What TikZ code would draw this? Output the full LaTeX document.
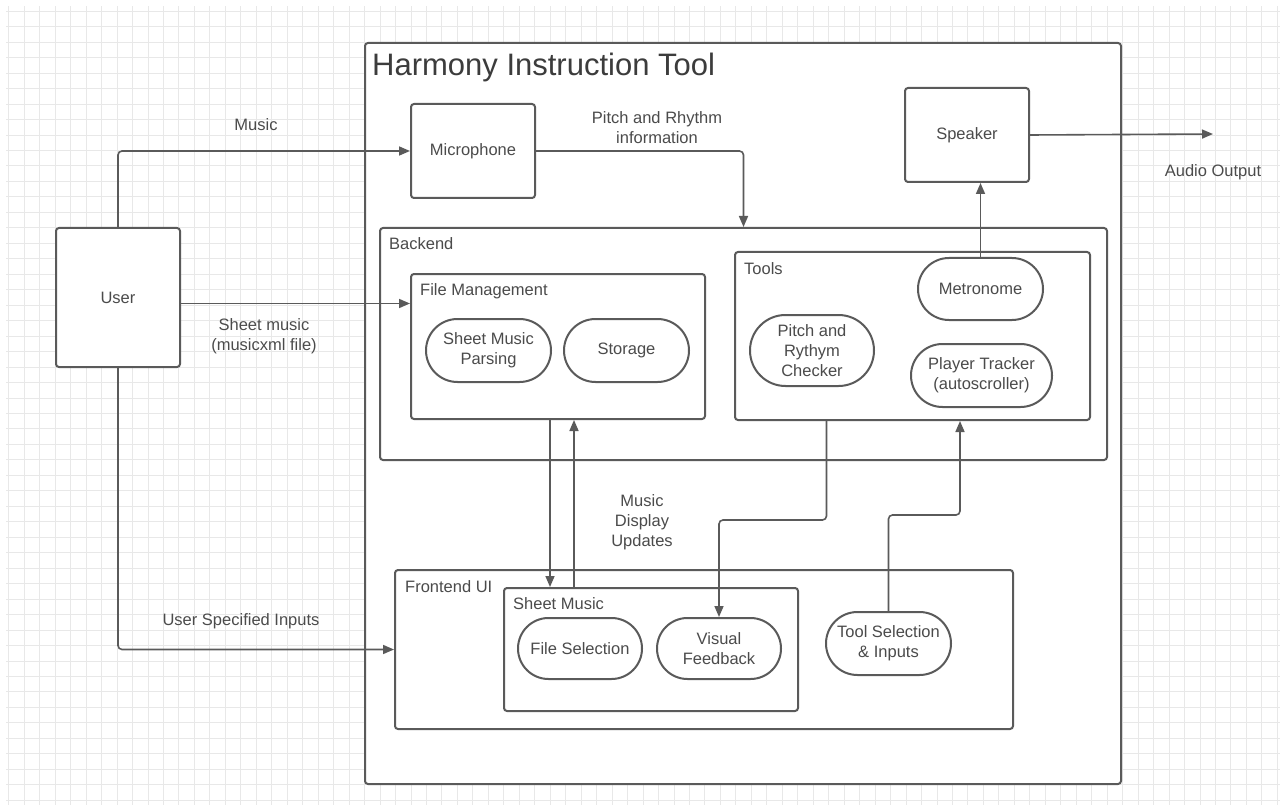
\documentclass[tikz,border=0pt]{standalone}
\usepackage{fontspec}
\setmainfont{Liberation Sans}
\usetikzlibrary{arrows.meta,shapes.misc}
\definecolor{linecol}{RGB}{90,90,90}
\definecolor{textcol}{RGB}{75,75,75}
\definecolor{gridcol}{RGB}{232,232,232}
\begin{document}
\begin{tikzpicture}[x=1pt,y=-1pt,
	box/.style={draw=linecol, line width=2pt, rounded corners=3pt, fill=white, inner sep=0pt, anchor=north west},
	pill/.style={draw=linecol, line width=2pt, rounded rectangle, fill=white, inner sep=0pt, align=center, text=textcol, font=\fontsize{16.5}{20}\selectfont},
	boxtext/.style={text=textcol, font=\fontsize{16.5}{20}\selectfont, align=center, inner sep=0pt},
	grouplabel/.style={text=textcol, font=\fontsize{16.5}{20}\selectfont, inner sep=0pt, anchor=west},
	flow/.style={draw=linecol, line width=1.6pt, rounded corners=4pt, -{Triangle[length=11pt,width=9pt]}}]
	\useasboundingbox (0,0) rectangle (1280,805);
	% background grid
	\foreach \k in {0,...,82} \draw [gridcol, line width=0.8pt] ({8.7+15.47*\k},6) -- ({8.7+15.47*\k},805);
	\foreach \k in {0,...,51} \draw [gridcol, line width=0.8pt] (6,{11.2+15.47*\k}) -- (1280,{11.2+15.47*\k});
	% containers
	\node [box, minimum width=756pt, minimum height=741pt] (harmony) at (364,42) {};
	\node [anchor=west, inner sep=0pt, text=textcol!80!black, font=\fontsize{31}{36}\selectfont] (title) at (372,67) {Harmony Instruction Tool};
	\node [box, minimum width=727pt, minimum height=232pt] (backend) at (379,227) {};
	\node [grouplabel] (backendlbl) at (389,244) {Backend};
	\node [box, minimum width=294pt, minimum height=145pt] (fileman) at (410,273) {};
	\node [grouplabel] (filemanlbl) at (420,291) {File Management};
	\node [box, minimum width=355pt, minimum height=168pt] (tools) at (734,251) {};
	\node [grouplabel] (toolslbl) at (744,269) {Tools};
	\node [box, minimum width=618pt, minimum height=159pt] (frontend) at (394,569) {};
	\node [grouplabel] (frontendlbl) at (405,587) {Frontend UI};
	\node [box, minimum width=294pt, minimum height=123pt] (sheetmusic) at (503,587) {};
	\node [grouplabel] (sheetmusiclbl) at (513,604) {Sheet Music};
	% plain boxes
	\node [box, minimum width=124pt, minimum height=139pt] (user) at (55,227) {};
	\node [boxtext] at (user.center) {User};
	\node [box, minimum width=124pt, minimum height=94pt] (mic) at (410,103) {};
	\node [boxtext] at (mic.center) {Microphone};
	\node [box, minimum width=124pt, minimum height=94pt] (speaker) at (904,87) {};
	\node [boxtext] at (speaker.center) {Speaker};
	% rounded parts
	\node [pill, minimum width=125pt, minimum height=63pt] (parsing) at (488.5,350.5) {Sheet Music\\Parsing};
	\node [pill, minimum width=125pt, minimum height=63pt] (storage) at (626.5,350.5) {Storage};
	\node [pill, minimum width=125pt, minimum height=62pt] (metronome) at (980.5,289) {Metronome};
	\node [pill, minimum width=124pt, minimum height=71pt] (checker) at (812,350.5) {Pitch and\\Rythym\\Checker};
	\node [pill, minimum width=141pt, minimum height=63pt] (tracker) at (981.5,375.5) {Player Tracker\\(autoscroller)};
	\node [pill, minimum width=124pt, minimum height=61pt] (fileselect) at (580,648.5) {File Selection};
	\node [pill, minimum width=124pt, minimum height=61pt] (visual) at (719,648.5) {Visual\\Feedback};
	\node [pill, minimum width=125pt, minimum height=63pt] (toolselect) at (888.5,643.5) {Tool Selection\\\& Inputs};
	% connectors
	\coordinate (audioend) at (1213,134);
	\draw [flow] (user.north) |- (mic.west);
	\draw [flow] ([yshift=-6pt]user.east) coordinate (usersheet) -- (usersheet -| fileman.west);
	\draw [flow] (user.south) |- (frontend.west);
	\draw [flow] (mic.east) -| (backend.north);
	\draw [flow] (speaker.east) -- (audioend);
	\draw [flow] (metronome.north) -- (metronome.north |- speaker.south);
	\draw [flow] ([xshift=-8pt]fileman.south) coordinate (fmdown) -- (fmdown |- sheetmusic.north);
	\draw [flow] ([xshift=16pt]fileman.south |- sheetmusic.north) coordinate (smup) -- (smup |- fileman.south);
	\draw [flow] ([xshift=-86pt]tools.south) -- ++(0,99) -| (visual.north);
	\draw [flow] (toolselect.north) -- ++(0,-96) -| ([xshift=47.5pt]tools.south);
	% connector labels
	\node [boxtext] (musiclbl) at (256,125) {Music};
	\node [boxtext] (pitchlbl) at (657,128) {Pitch and Rhythm\\information};
	\node [boxtext] (sheetlbl) at (264,336) {Sheet music\\(musicxml file)};
	\node [boxtext] (inputslbl) at (241,621) {User Specified Inputs};
	\node [boxtext] (updateslbl) at (642,522) {Music\\Display\\Updates};
	\node [boxtext] (audiolbl) at (1213,172) {Audio Output};
\end{tikzpicture}
\end{document}
